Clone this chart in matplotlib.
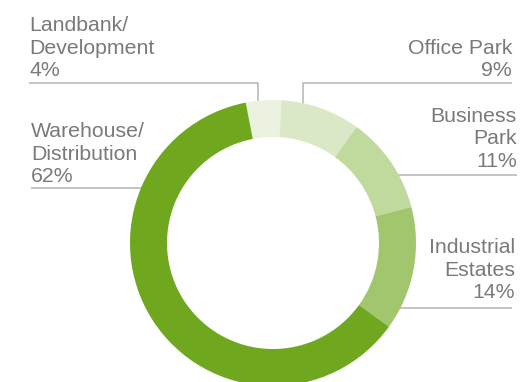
import matplotlib.pyplot as plt

# portfolio split by asset type (%)
labels = ['Landbank/\nDevelopment', 'Office Park', 'Business\nPark',
          'Industrial\nEstates', 'Warehouse/\nDistribution']
shares = [4, 9, 11, 14, 62]
colors = ['#ebf2e0', '#dbe8c7', '#c0d99d', '#a2c66d', '#6fa81e']

W, H = 520, 382
fig = plt.figure(figsize=(W / 100, H / 100), dpi=100)
ax = fig.add_axes([0, 0, 1, 1])

def py(y):
    # pixel row (from top) -> data y
    return H - y

cx, cy, r_out, r_in = 273, 243, 143, 106
ax.pie(shares, colors=colors, startangle=101, counterclock=False,
       center=(cx, py(cy)), radius=r_out, frame=True,
       wedgeprops=dict(width=r_out - r_in, linewidth=0, zorder=3))
ax.set_xlim(0, W)
ax.set_ylim(0, H)
ax.set_aspect('equal')
ax.axis('off')

txt = '#7a7a7a'
ln = '#b4b4b4'
lw = 1.1

# label anchor: x, alignment, baseline of the percent line
anchors = [(29, 'left', 76), (512, 'right', 76), (517, 'right', 167),
           (515, 'right', 298), (31, 'left', 182)]
step = 22.5
for lab, val, (x, ha, base) in zip(labels, shares, anchors):
    lines = lab.split('\n') + ['%d%%' % val]
    n = len(lines)
    for i, s in enumerate(lines):
        ax.text(x, py(base - (n - 1 - i) * step), s, ha=ha, va='baseline',
                fontsize=15.3, color=txt, family='Liberation Sans')

# leader lines
leaders = [
    ([29, 258, 258], [83, 83, 104]),
    ([303, 303, 512], [104, 83, 83]),
    ([392, 517], [175, 175]),
    ([31, 146], [188, 188]),
    ([396, 512], [308, 308]),
]
for xs, ys in leaders:
    ax.plot(xs, [py(v) for v in ys], color=ln, lw=lw, zorder=1,
            solid_capstyle='butt')

fig.savefig('out.png', dpi=100)
